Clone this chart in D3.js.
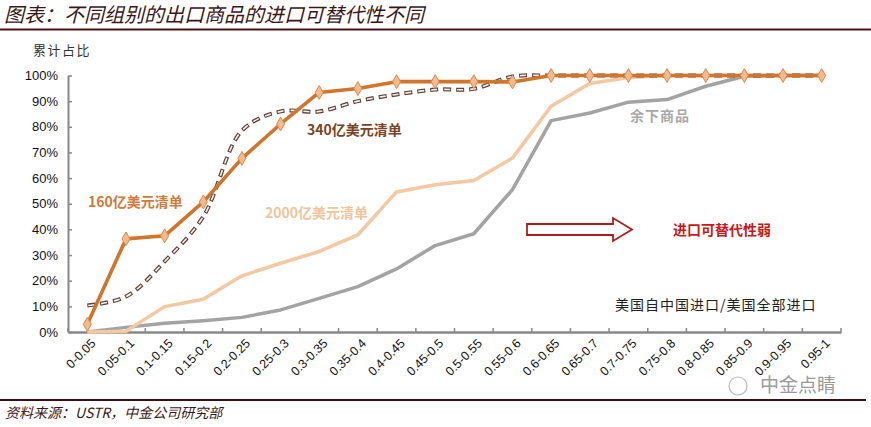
<!DOCTYPE html>
<html><head><meta charset="utf-8">
<script src="https://cdn.jsdelivr.net/npm/d3@7"></script>
<style>
body{margin:0;background:#fff;}
svg{display:block;}
</style></head>
<body>
<svg id="c" width="871" height="427"></svg>
<script>
const categories = ["0-0.05","0.05-0.1","0.1-0.15","0.15-0.2","0.2-0.25","0.25-0.3","0.3-0.35","0.35-0.4","0.4-0.45","0.45-0.5","0.5-0.55","0.55-0.6","0.6-0.65","0.65-0.7","0.7-0.75","0.75-0.8","0.8-0.85","0.85-0.9","0.9-0.95","0.95-1"];
const list160 = [3,36.3,37.5,50.7,67.7,81.1,93.4,94.9,97.6,97.6,97.6,97.5,100,100,100,100,100,100,100,100];
const list340 = [10.3,13.8,27.5,45,78.5,86,86,90,92.6,94.5,94.8,99.6,100,100,100,100,100,100,100,100];
const list2000 = [0,0.3,9.9,12.8,21.9,26.8,31.4,37.9,54.6,57.4,59.1,67.8,88,96.9,99.2,100,100,100,100,100];
const listRest = [0,1.8,3.4,4.4,5.7,8.6,13.1,17.7,24.6,33.7,38.3,55.5,82.4,85.4,89.6,90.6,95.8,99.7,100,100];
const yTicks = [0,10,20,30,40,50,60,70,80,90,100];

const svg = d3.select("#c");
const x = d3.scaleBand().domain(categories).range([68,841]);
const y = d3.scaleLinear().domain([0,100]).range([332,75.5]);
const cx = c => x(c) + x.bandwidth()/2;
const CJK = "'Noto Sans CJK SC', sans-serif";
const LAT = "'Liberation Sans', Arial, sans-serif";

// title
svg.append("text").attr("x",4).attr("y",22).text("图表：不同组别的出口商品的进口可替代性不同")
  .attr("font-family",CJK).attr("font-size",20).attr("font-style","italic").attr("fill","#3a1818");
svg.append("line").attr("x1",0).attr("x2",871).attr("y1",29.5).attr("y2",29.5).attr("stroke","#4a1414").attr("stroke-width",2);
svg.append("text").attr("x",33).attr("y",55).text("累计占比").attr("font-family",CJK).attr("font-size",13).attr("fill","#333").attr("letter-spacing",1.5);

// axes
const axY = svg.append("g").attr("transform","translate(68,0)")
  .call(d3.axisLeft(y).tickValues(yTicks).tickFormat(d=>d+"%").tickSizeInner(-4).tickSizeOuter(0).tickPadding(10));
axY.select(".domain").attr("stroke","#888").attr("stroke-width",2);
axY.selectAll(".tick line").attr("stroke","#888").attr("stroke-width",1.5);
axY.selectAll("text").attr("font-family",LAT).attr("font-size",13).attr("fill","#111");

const axX = svg.append("g").attr("transform","translate(0,332)")
  .call(d3.axisBottom(x).tickSize(0).tickFormat(""));
axX.select(".domain").attr("stroke","#888").attr("stroke-width",2.5);
const bounds = categories.map(c=>x(c)).concat([x.range()[1]]);
axX.selectAll(".bt").data(bounds).enter().append("line").attr("class","bt")
  .attr("x1",d=>d).attr("x2",d=>d).attr("y1",0).attr("y2",-4).attr("stroke","#888").attr("stroke-width",1.5);
svg.append("g").selectAll("text").data(categories).enter().append("text")
  .attr("transform",d=>`translate(${cx(d)+6},${341}) rotate(-45)`)
  .attr("text-anchor","end").attr("dy","0.35em").text(d=>d)
  .attr("font-family",LAT).attr("font-size",12.5).attr("fill","#111");

// lines
const line = d3.line().x((d,i)=>cx(categories[i])).y(d=>y(d));
svg.append("path").datum(listRest).attr("d",line).attr("fill","none").attr("stroke","#a3a3a3").attr("stroke-width",3.5).attr("stroke-linejoin","round");
svg.append("path").datum(list2000).attr("d",line).attr("fill","none").attr("stroke","#f5c8a2").attr("stroke-width",3.5).attr("stroke-linejoin","round");
const sline = d3.line().x((d,i)=>cx(categories[i])).y(d=>y(d)).curve(d3.curveCatmullRom.alpha(0.5));
svg.append("path").datum(list340).attr("d",sline).attr("fill","none").attr("stroke","#5e4238").attr("stroke-width",4).attr("stroke-dasharray","8,5");
svg.append("path").datum(list340).attr("d",sline).attr("fill","none").attr("stroke","#fbf1ea").attr("stroke-width",1.6).attr("stroke-dasharray","6,7").attr("stroke-dashoffset",-1);
svg.append("path").datum(list160).attr("d",line).attr("fill","none").attr("stroke","#d2742a").attr("stroke-width",3.6).attr("stroke-linejoin","round");
svg.append("g").selectAll("path").data(list160).enter().append("path")
  .attr("d",d3.symbol(d3.symbolDiamond,55)())
  .attr("transform",(d,i)=>`translate(${cx(categories[i])},${y(d)})`)
  .attr("fill","#f4b98c").attr("stroke","#e0894a").attr("stroke-width",1);

// annotations
svg.append("text").attr("x",88).attr("y",207).text("160亿美元清单").attr("font-family",CJK).attr("font-weight","bold").attr("font-size",14).attr("fill","#d27a3a");
svg.append("text").attr("x",307).attr("y",135).text("340亿美元清单").attr("font-family",CJK).attr("font-weight","bold").attr("font-size",14).attr("fill","#7a4424");
svg.append("text").attr("x",265).attr("y",218).text("2000亿美元清单").attr("font-family",CJK).attr("font-weight","bold").attr("font-size",14).attr("fill","#f3c39c");
svg.append("text").attr("x",630).attr("y",121).text("余下商品").attr("font-family",CJK).attr("font-weight","bold").attr("font-size",14).attr("fill","#a8a8a8").attr("letter-spacing",1);

// arrow
const ar = [[527,224],[613,224],[613,218],[632,229.5],[613,241],[613,235],[527,235]];
svg.append("path").attr("d",d3.line()(ar)+"Z").attr("fill","#fff").attr("stroke","#b01c1c").attr("stroke-width",1.8);
svg.append("text").attr("x",673).attr("y",235).text("进口可替代性弱").attr("font-family",CJK).attr("font-weight","bold").attr("font-size",14).attr("fill","#c81818");
svg.append("text").attr("x",615).attr("y",310).text("美国自中国进口/美国全部进口").attr("font-family",CJK).attr("font-size",14).attr("fill","#222").attr("letter-spacing",1);

// footer
svg.append("line").attr("x1",0).attr("x2",866).attr("y1",400).attr("y2",400).attr("stroke","#3a0f0f").attr("stroke-width",2);
svg.append("text").attr("x",5).attr("y",418).text("资料来源：USTR，中金公司研究部").attr("font-family",CJK).attr("font-style","italic").attr("font-size",14).attr("fill","#3a1818");
svg.append("text").attr("x",760).attr("y",392).text("中金点睛").attr("font-family",CJK).attr("font-size",19).attr("fill","#9a9a9a");
svg.append("circle").attr("cx",738).attr("cy",386).attr("r",9).attr("fill","none").attr("stroke","#bbb").attr("stroke-width",1.2);
</script>
</body></html>
